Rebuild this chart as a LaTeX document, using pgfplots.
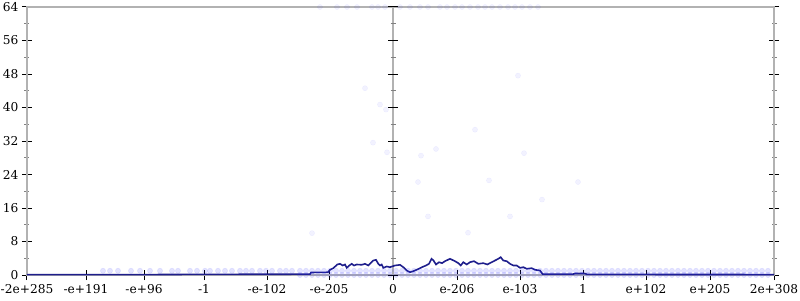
\documentclass[border=0pt]{standalone}
\usepackage{pgfplots}
\pgfplotsset{compat=1.18}
\usepackage{fontspec}
\setmainfont{DejaVu Serif}
\definecolor{navyline}{RGB}{30,30,140}
\definecolor{axgray}{RGB}{178,178,178}
\definecolor{dotblue}{RGB}{40,40,255}
\pgfplotstableread{
x y
312 10.0
365 44.6
380 40.7
386 39.5
373 31.6
387 29.3
421 28.5
436 30.1
475 34.7
524 29.1
418 22.2
489 22.6
542 18.0
428 14.0
510 14.0
468 10.1
578 22.2
518 47.6
320 64
337 64
347 64
357 64
372 64
378 64
385 64
400 64
410 64
420 64
428 64
440 64
447 64
455 64
462 64
470 64
478 64
485 64
492 64
500 64
508 64
515 64
522 64
530 64
538 64
}\sparse
\pgfplotstableread{
x y
103 1
110 1
118 1
131 1
140 1
150 1
160 1
172 1
178 1
190 1
197 1
205 1
210 1
218 1
225 1
232 1
240 1
246 1
252 1
260 1
266 1
272 1
280 1
286 1
292 1
300 1
306 1
312 1
318 1
324 1
330 1
336 1
342 1
348 1
354 1
360 1
366 1
372 1
378 1
384 1
390 1
396 1
402 1
408 1
414 1
420 1
426 1
432 1
438 1
444 1
450 1
456 1
462 1
468 1
474 1
480 1
486 1
492 1
498 1
504 1
510 1
516 1
522 1
528 1
534 1
540 1
546 1
552 1
558 1
564 1
570 1
576 1
582 1
588 1
594 1
600 1
606 1
612 1
618 1
624 1
630 1
636 1
642 1
648 1
654 1
660 1
666 1
672 1
678 1
684 1
690 1
696 1
702 1
708 1
714 1
720 1
726 1
732 1
738 1
744 1
750 1
756 1
762 1
768 1
300 0
306 0
312 0
318 0
324 0
330 0
336 0
342 0
348 0
354 0
360 0
366 0
372 0
378 0
384 0
390 0
396 0
402 0
408 0
414 0
420 0
426 0
432 0
438 0
444 0
450 0
456 0
462 0
468 0
474 0
480 0
486 0
492 0
498 0
504 0
510 0
516 0
522 0
528 0
534 0
540 0
546 0
552 0
558 0
564 0
570 0
576 0
582 0
588 0
594 0
600 0
606 0
612 0
618 0
624 0
630 0
636 0
642 0
648 0
654 0
660 0
666 0
672 0
678 0
684 0
690 0
696 0
702 0
708 0
714 0
720 0
726 0
732 0
738 0
744 0
750 0
756 0
762 0
768 0
}\band
\pgfplotstableread{
x y
27 0.1
150 0.1
200 0.15
310 0.2
311 0.6
328 0.65
330 1.24
333.3 1.63
337.3 2.51
340 2.67
342.7 2.27
345 2.51
346.7 1.71
349.3 2.27
351.7 2.67
354 2.27
356.7 2.51
361.7 2.43
365 2.67
368.3 2.27
370.7 2.83
373.3 3.46
376 3.62
378.3 2.67
380 2.27
381.7 2.51
383.3 1.71
386.7 2.03
390 1.87
395 2.27
400 2.43
403.3 1.87
406.7 1.07
410 0.67
413.3 0.91
418 1.40
422 1.87
426 2.27
429 2.67
431.5 3.87
433.5 3.46
436 2.51
439 3.06
442 2.83
445 3.30
450 3.87
455 3.30
458.3 2.83
460.7 2.27
463.3 3.06
466.7 2.51
470 3.06
474 3.30
478.3 2.67
483.3 2.83
487.3 2.51
491.7 3.06
495 3.46
498.3 3.87
500.7 4.25
503.3 3.46
506.7 3.30
510 2.67
513.3 2.27
516.7 2.27
520 1.71
523.3 1.87
526.7 1.48
531.7 1.63
535 1.24
540 1.07
542.7 0.2
573 0.2
575 0.35
585 0.35
587 0.15
774 0.1
}\mainline
\begin{document}
\begin{tikzpicture}
\begin{axis}[
  scale only axis, width=747pt, height=268pt,
  xmin=27, xmax=774, ymin=0, ymax=64,
  clip=false,
  axis line style={axgray, line width=1.4pt},
  xtick={27,86,144,204,267,329,393,457,520,583,646,710,774},
  xticklabels={-2e+285,-e+191,-e+96,-1,-e-102,-e-205,0,e-206,e-103,1,e+102,e+205,2e+308},
  ytick={0,8,16,24,32,40,48,56,64},
  minor y tick num=1,
  xtick pos=bottom, ytick pos=both, yticklabel pos=left,
  tick align=center,
  major tick length=10pt, minor tick length=5pt,
  major tick style={black, line width=1pt},
  minor tick style={gray, line width=0.8pt},
  tick label style={font=\fontsize{12.2}{15}\selectfont},
  xticklabel style={yshift=-1pt},
  /pgf/number format/assume math mode=true,
]
\draw[axgray, line width=1.4pt] (axis cs:393,0) -- (axis cs:393,64);
\pgfplotsinvokeforeach{0,8,16,24,32,40,48,56,64}{
  \draw[black, line width=1pt] ([xshift=-5pt]axis cs:393,#1) -- ([xshift=5pt]axis cs:393,#1);
}
\pgfplotsinvokeforeach{4,12,20,28,36,44,52,60}{
  \draw[gray, line width=0.8pt] ([xshift=-2.5pt]axis cs:393,#1) -- ([xshift=2.5pt]axis cs:393,#1);
}
\addplot[dotblue, only marks, mark=*, mark size=2.6pt, opacity=0.06] table {\sparse};
\addplot[dotblue, only marks, mark=*, mark size=2.6pt, opacity=0.13] table {\band};
\addplot[navyline, line width=1.6pt, mark=none] table {\mainline};
\end{axis}
\pgfresetboundingbox
\path ([xshift=-27pt,yshift=-25pt]current axis.south west) rectangle ([xshift=26pt,yshift=7pt]current axis.north east);
\end{tikzpicture}
\end{document}
